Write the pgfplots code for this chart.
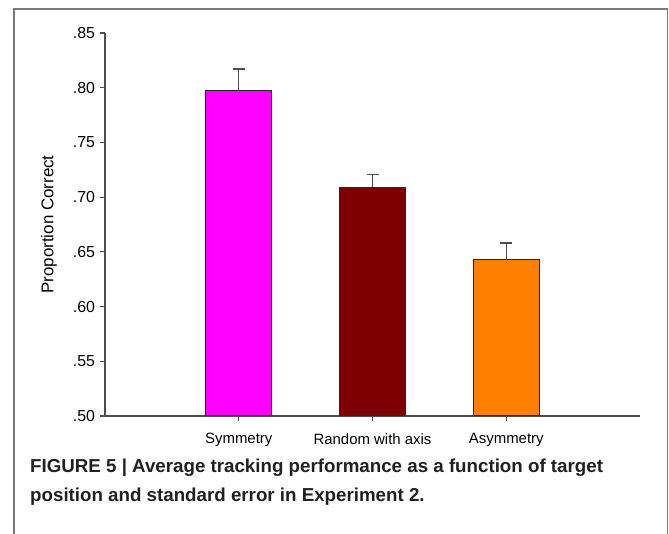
\documentclass[border=0pt]{standalone}
\usepackage{pgfplots}
\pgfplotsset{compat=1.18}
\usepackage{fontspec}
\setmainfont{Liberation Sans}
\definecolor{barmagenta}{HTML}{FF00FF}
\definecolor{barmaroon}{HTML}{7F0000}
\definecolor{barorange}{HTML}{FF8000}
\definecolor{framegray}{HTML}{7A7A7A}
\definecolor{axisgray}{HTML}{4D4D4D}
\definecolor{captext}{HTML}{231F20}
\begin{document}
\begin{tikzpicture}[x=1bp,y=1bp]
  \path[use as bounding box] (0,0) rectangle (669,534);
  % figure frame, open at the bottom
  \draw[framegray, line width=1.6bp] (14,0) -- (14,525) -- (667.5,525) -- (667.5,0);
  \begin{axis}[
    at={(105bp,118bp)}, anchor=south west,
    scale only axis, width=535bp, height=383bp,
    xmin=-1, xmax=3, ymin=0.5, ymax=0.85,
    axis x line=bottom, axis y line=left,
    axis line style={-, axisgray, line width=1.3bp},
    tick align=outside, major tick length=5bp,
    tick style={axisgray, line width=1.2bp},
    xtick={0,1,2},
    xticklabels={Symmetry, Random with axis, Asymmetry},
    ytick={0.50,0.55,0.60,0.65,0.70,0.75,0.80,0.85},
    yticklabels={.50,.55,.60,.65,.70,.75,.80,.85},
    xticklabel style={font=\fontsize{15}{18}\selectfont, text=black, yshift=-9bp},
    yticklabel style={font=\fontsize{16}{19}\selectfont, text=black, xshift=-1.5bp},
    ylabel={Proportion Correct},
    ylabel style={font=\fontsize{17}{20}\selectfont, at={(axis description cs:-0.1045,0.5)}, anchor=center},
    ybar, bar width=66bp, bar shift=0pt,
    every axis plot/.append style={draw=black!85, line width=1bp},
    error bars/error bar style={axisgray, line width=1.3bp},
    error bars/error mark options={rotate=90, mark size=6bp, axisgray, line width=1.3bp},
  ]
    \addplot[fill=barmagenta, error bars/.cd, y dir=plus, y explicit]
      coordinates {(0,0.797) +- (0,0.020)};
    \addplot[fill=barmaroon, error bars/.cd, y dir=plus, y explicit]
      coordinates {(1,0.709) +- (0,0.012)};
    \addplot[fill=barorange, error bars/.cd, y dir=plus, y explicit]
      coordinates {(2,0.643) +- (0,0.015)};
  \end{axis}
  \node[anchor=base west, inner sep=0pt, text=captext, font=\bfseries\fontsize{18.8}{22}\selectfont]
    at (30,534-473) {FIGURE 5 | Average tracking performance as a function of target};
  \node[anchor=base west, inner sep=0pt, text=captext, font=\bfseries\fontsize{18.8}{22}\selectfont]
    at (30,534-502) {position and standard error in Experiment 2.};
\end{tikzpicture}
\end{document}
